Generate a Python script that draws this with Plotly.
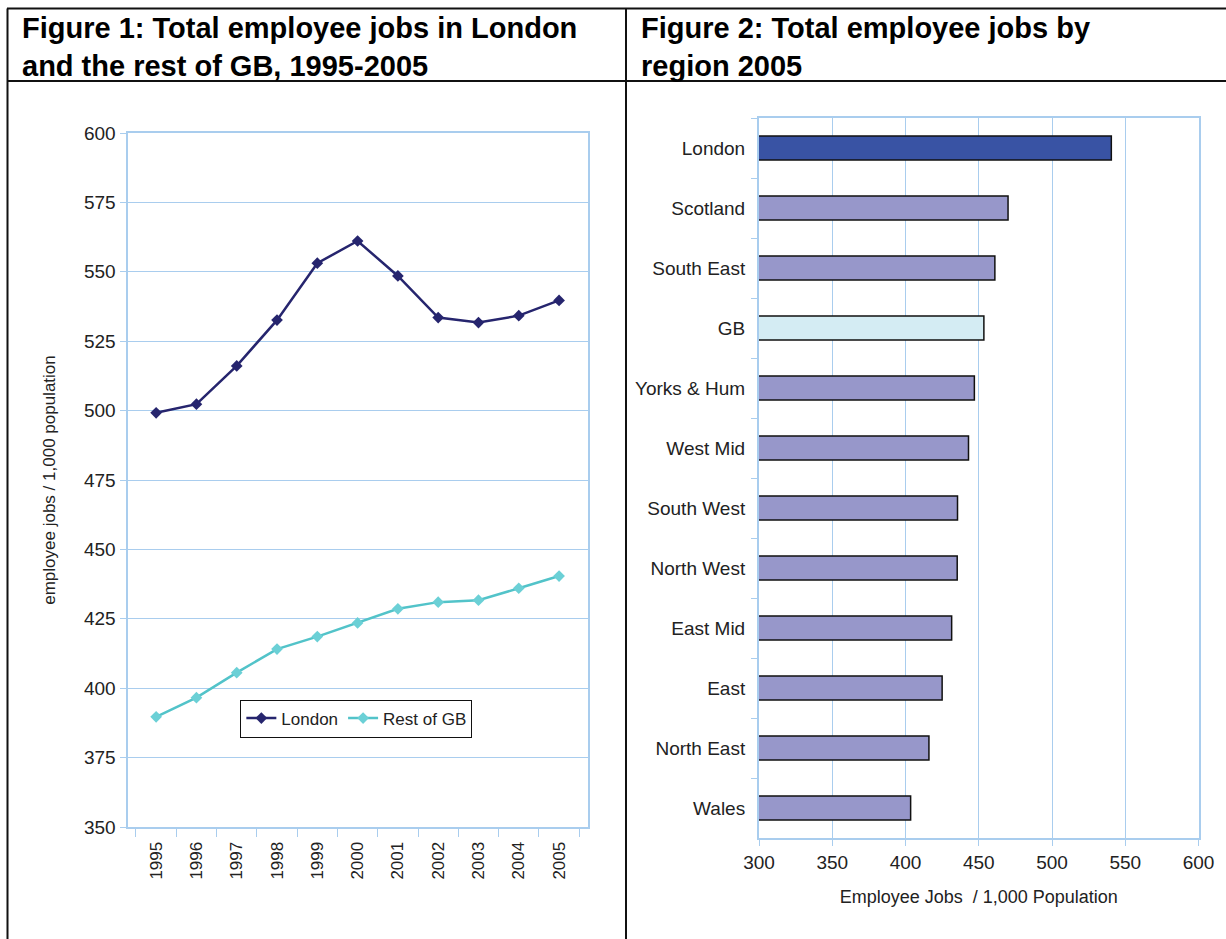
import plotly.graph_objects as go

# Figure 1 data: employee jobs per 1,000 population
years = ["1995", "1996", "1997", "1998", "1999", "2000",
         "2001", "2002", "2003", "2004", "2005"]
london = [499.2, 502.3, 516.1, 532.6, 553.1, 561.1, 548.5, 533.5, 531.7, 534.2, 539.7]
rest_of_gb = [389.7, 396.6, 405.6, 414.1, 418.6, 423.5, 428.6, 431.0, 431.7, 436.0, 440.4]

# Figure 2 data: employee jobs per 1,000 population by region, 2005
regions = ["London", "Scotland", "South East", "GB", "Yorks & Hum", "West Mid",
           "South West", "North West", "East Mid", "East", "North East", "Wales"]
region_jobs = [540.5, 470.0, 461.0, 453.5, 447.0, 443.0,
               435.5, 435.3, 431.5, 425.0, 416.0, 403.5]

W, H = 1226, 939
FONT = "Liberation Sans Narrow, Liberation Sans, Arial, sans-serif"
PLAIN = "Liberation Sans, Arial, sans-serif"
TEXT = "#222222"
GRID = "#A9CDEE"

bar_colors = []
for r in regions:
    if r == "London":
        bar_colors.append("#3953A4")
    elif r == "GB":
        bar_colors.append("#D4ECF3")
    else:
        bar_colors.append("#9797CA")


def px_x(x):
    return x / W


def px_y(y):
    return 1 - y / H


fig = go.Figure()

fig.add_trace(go.Scatter(
    x=years, y=london, name="London", mode="lines+markers",
    line=dict(color="#26256E", width=2.5),
    marker=dict(symbol="diamond", size=9, color="#26256E"),
    xaxis="x", yaxis="y",
))
fig.add_trace(go.Scatter(
    x=years, y=rest_of_gb, name="Rest of GB", mode="lines+markers",
    line=dict(color="#52C3C9", width=2.5),
    marker=dict(symbol="diamond", size=9, color="#6BD0D6"),
    xaxis="x", yaxis="y",
))
fig.add_trace(go.Bar(
    y=regions, x=region_jobs, orientation="h", width=0.4,
    marker=dict(color=bar_colors, line=dict(color="#111111", width=1.5)),
    showlegend=False, xaxis="x2", yaxis="y2",
))

axis_common = dict(
    showline=True, linecolor=GRID, linewidth=2, mirror=True,
    gridcolor=GRID, gridwidth=1, ticks="outside", tickcolor=GRID,
    zeroline=False, color=TEXT, automargin=False,
)

fig.update_layout(
    width=W, height=H,
    margin=dict(l=0, r=0, t=0, b=0),
    paper_bgcolor="white", plot_bgcolor="white",
    font=dict(family=FONT, size=19, color=TEXT),
    xaxis=dict(
        **axis_common,
        domain=[px_x(127.5), px_x(587.7)],
        type="category", tickson="boundaries", ticklen=8, showgrid=False,
        tickangle=-90, ticklabelstandoff=6,
        tickfont=dict(family=PLAIN, size=17, color=TEXT),
        anchor="y",
    ),
    yaxis=dict(
        **axis_common,
        domain=[px_y(827), px_y(133)],
        range=[350, 600], dtick=25, ticklen=6, showgrid=True,
        title=dict(text="employee jobs / 1,000 population",
                   font=dict(family=PLAIN, size=17, color=TEXT),
                   standoff=24),
        anchor="x",
    ),
    xaxis2=dict(
        **axis_common,
        domain=[px_x(759), px_x(1198.5)],
        range=[300, 600], dtick=50, ticklen=6, showgrid=True,
        title=dict(text="Employee Jobs  / 1,000 Population",
                   font=dict(family=FONT, size=18, color=TEXT), standoff=19),
        anchor="y2",
    ),
    yaxis2=dict(
        **axis_common,
        domain=[px_y(838), px_y(118)],
        type="category", categoryorder="array", categoryarray=regions,
        autorange="reversed", tickson="boundaries", ticklen=6, showgrid=False,
        ticklabelstandoff=8,
        anchor="x2",
    ),
    legend=dict(
        x=(245.7 + 467) / 2 / W, y=px_y(718.5), xanchor="center", yanchor="middle",
        orientation="h", bgcolor="white", bordercolor="#111111", borderwidth=1,
        font=dict(family=FONT, size=17, color=TEXT),
        itemwidth=30, tracegroupgap=0,
    ),
    showlegend=True,
)

# table rules around the two figures
line_style = dict(color="#111111", width=2)
shapes = [
    dict(type="line", xref="paper", yref="paper", x0=px_x(7), x1=1, y0=px_y(8.5), y1=px_y(8.5), line=line_style),
    dict(type="line", xref="paper", yref="paper", x0=px_x(7), x1=1, y0=px_y(81), y1=px_y(81), line=line_style),
    dict(type="line", xref="paper", yref="paper", x0=px_x(7.5), x1=px_x(7.5), y0=0, y1=px_y(8.5), line=line_style),
    dict(type="line", xref="paper", yref="paper", x0=px_x(626), x1=px_x(626), y0=0, y1=px_y(8.5), line=line_style),
]
fig.update_layout(shapes=shapes)

title_font = dict(family=FONT, size=29, color="#000000")
fig.add_annotation(
    xref="paper", yref="paper", x=px_x(20), y=px_y(10), xanchor="left", yanchor="top",
    align="left", showarrow=False, font=title_font,
    text="<b>Figure 1: Total employee jobs in London<br>and the rest of GB, 1995-2005</b>",
)
fig.add_annotation(
    xref="paper", yref="paper", x=px_x(639), y=px_y(10), xanchor="left", yanchor="top",
    align="left", showarrow=False, font=title_font,
    text="<b>Figure 2: Total employee jobs by<br>region 2005</b>",
)

fig.write_html("out.html")
